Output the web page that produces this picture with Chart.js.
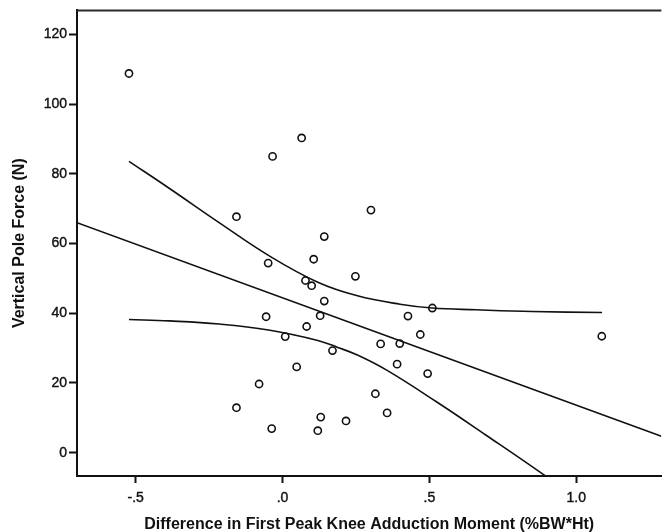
<!DOCTYPE html>
<html>
<head>
<meta charset="utf-8">
<script src="https://cdn.jsdelivr.net/npm/chart.js@4.4.1/dist/chart.umd.min.js"></script>
<style>
  body { margin: 0; background: #fff; }
  #wrap { width: 667px; height: 532px; }
</style>
</head>
<body>
<div id="wrap"><canvas id="grafico" width="667" height="532"></canvas></div>
<script>
/* *****
datos
***** */

// puntos observados
const momentX = [-0.523, -0.157, 0.301, 0.142, -0.049, 0.106, 0.248, 0.078, 0.099, 0.142, 0.510, -0.056,
  0.128, 0.427, 0.082, 0.469, 0.009, 0.334, 0.399, 0.170, 0.390, 0.048, 0.494, 0.065, -0.034, -0.080,
  -0.157, -0.037, 0.130, 0.120, 0.316, 0.356, 0.216, 1.087];
const poleForce = [108.8, 67.7, 69.6, 62.0, 54.4, 55.5, 50.6, 49.4, 47.9, 43.5, 41.5, 39.0,
  39.3, 39.2, 36.2, 33.9, 33.3, 31.2, 31.3, 29.3, 25.4, 24.6, 22.7, 90.3, 85.0, 19.7,
  12.9, 6.9, 10.2, 6.3, 16.9, 11.4, 9.1, 33.4];

// recta de ajuste
const fitX = [-0.70, 1.29];
const fitY = [66.0, 4.7];

// banda de confianza superior
const upperX = [-0.523, -0.385, -0.216, -0.048, 0.120, 0.255, 0.400, 0.510, 0.660, 0.850, 1.088];
const upperY = [83.6, 75.8, 66.0, 56.6, 48.9, 45.0, 42.6, 41.5, 41.0, 40.5, 40.2];

// banda de confianza inferior
const lowerX = [-0.523, -0.385, -0.216, -0.048, 0.120, 0.188, 0.255, 0.356, 0.524, 0.693, 0.890, 1.088];
const lowerY = [38.2, 37.8, 36.9, 35.2, 32.2, 30.2, 28.0, 23.6, 14.6, 5.0, -6.4, -18.4];

// ticks
const xTicks = [-0.5, 0, 0.5, 1.0];
const xTickLabels = ['-.5', '.0', '.5', '1.0'];
const yTicks = [0, 20, 40, 60, 80, 100, 120];

const toPoints = (xs, ys) => xs.map((x, i) => ({ x: x, y: ys[i] }));

const lineSet = (xs, ys) => ({
  data: toPoints(xs, ys),
  showLine: true,
  borderColor: '#111',
  borderWidth: 1.6,
  pointRadius: 0,
  tension: 0.4,
  fill: false
});

// linea superior del marco
const topBorder = {
  id: 'topBorder',
  afterDraw: (chart) => {
    const { ctx, chartArea } = chart;
    ctx.save();
    ctx.strokeStyle = '#2a2a2a';
    ctx.lineWidth = 2;
    ctx.beginPath();
    ctx.moveTo(chartArea.left, chartArea.top);
    ctx.lineTo(chartArea.right, chartArea.top);
    ctx.stroke();
    ctx.restore();
  }
};

const fontFam = '"Liberation Sans", Arial, sans-serif';

const config = {
  type: 'scatter',
  data: {
    datasets: [
      lineSet(fitX, fitY),
      lineSet(upperX, upperY),
      lineSet(lowerX, lowerY),
      {
        data: toPoints(momentX, poleForce),
        pointStyle: 'circle',
        pointRadius: 3.6,
        pointBorderWidth: 1.6,
        pointBorderColor: '#111',
        pointBackgroundColor: '#fff'
      }
    ]
  },
  options: {
    responsive: false,
    animation: false,
    layout: { padding: { top: 9, right: 0, left: 0, bottom: 0 } },
    plugins: { legend: { display: false }, tooltip: { enabled: false } },
    scales: {
      x: {
        type: 'linear',
        min: -0.7,
        max: 1.29,
        afterBuildTicks: (scale) => { scale.ticks = xTicks.map((v) => ({ value: v })); },
        afterFit: (scale) => { scale.height = 56; },
        grid: { drawOnChartArea: false, tickLength: 7, tickColor: '#111', tickWidth: 2 },
        border: { color: '#111', width: 2 },
        ticks: {
          color: '#111',
          padding: 7,
          maxRotation: 0,
          textStrokeColor: '#111',
          textStrokeWidth: 0.4,
          font: { family: fontFam, size: 14 },
          callback: (v) => xTickLabels[xTicks.indexOf(v)]
        },
        title: {
          display: true,
          text: 'Difference in First Peak Knee Adduction Moment (%BW*Ht)',
          color: '#111',
          font: { family: fontFam, size: 16, weight: 'bold' },
          padding: { top: 0, bottom: -2 }
        }
      },
      y: {
        type: 'linear',
        min: -6.7,
        max: 126.9,
        afterBuildTicks: (scale) => { scale.ticks = yTicks.map((v) => ({ value: v })); },
        afterFit: (scale) => { scale.width = 77; },
        grid: { drawOnChartArea: false, tickLength: 8, tickColor: '#111', tickWidth: 2 },
        border: { color: '#111', width: 2 },
        ticks: {
          color: '#111',
          padding: 2,
          textStrokeColor: '#111',
          textStrokeWidth: 0.4,
          font: { family: fontFam, size: 14 }
        },
        title: {
          display: true,
          text: 'Vertical Pole Force (N)',
          color: '#111',
          font: { family: fontFam, size: 16, weight: 'bold' },
          padding: { top: 10, bottom: 0 }
        }
      }
    }
  },
  plugins: [topBorder]
};

const mychart = new Chart(document.getElementById('grafico'), config);
</script>
</body>
</html>
